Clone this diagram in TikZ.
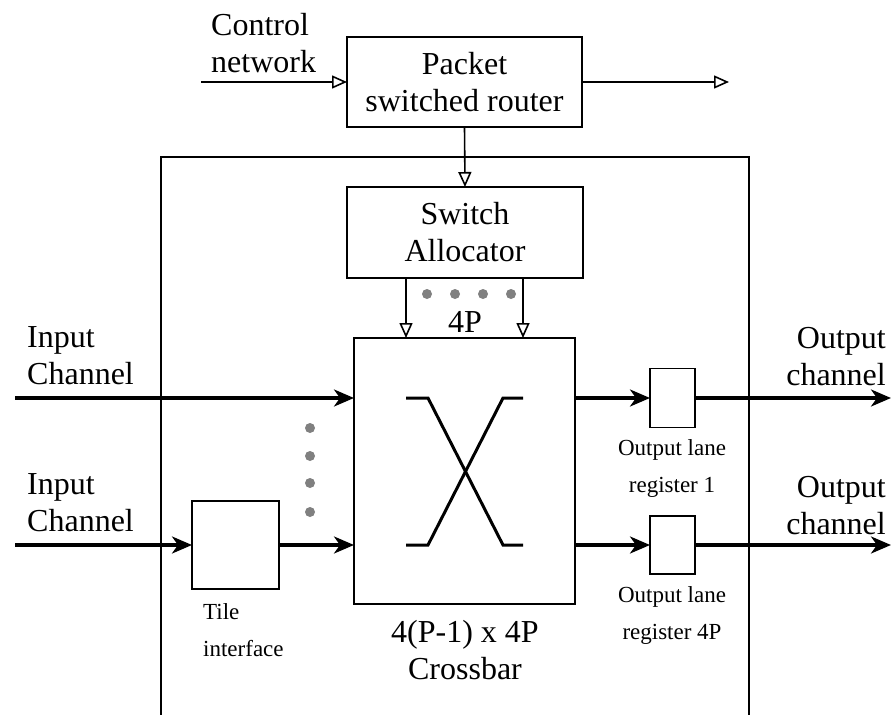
\documentclass[tikz,border=0pt]{standalone}
\usepackage{fontspec}
\setmainfont{Liberation Serif}
\usetikzlibrary{arrows.meta,calc}
\newcommand\mainsz{\fontsize{32}{37}\selectfont}
\newcommand\smallsz{\fontsize{23}{37}\selectfont}
\begin{document}
\begin{tikzpicture}[x=1pt,y=-1pt,
  box/.style={draw,line width=1.6pt,inner sep=0pt,outer sep=0pt},
  lbl/.style={inner sep=0pt,font=\mainsz},
  slbl/.style={inner sep=0pt,font=\smallsz},
  openarrow/.style={line width=1.6pt,-{Triangle[open,length=15pt,width=13pt,line width=1.6pt]}},
  thickarrow/.style={line width=3.2pt,-{Stealth[length=20pt,width=17pt,inset=6pt]}},
  thickline/.style={line width=3.2pt},
  xline/.style={line width=3pt},
  gdot/.style={fill=black!50,draw=none}]
\useasboundingbox (0,0) rectangle (892,715);
% outer frame
\coordinate (fa) at (161,715);
\coordinate (fb) at (161,157);
\coordinate (fc) at (749,157);
\coordinate (fd) at (749,715);
\draw[line width=1.6pt] (fa) -- (fb) -- (fc) -- (fd);
% boxes
\node[box,minimum width=235pt,minimum height=90pt,align=center,font=\mainsz] (psr) at (464.5,82) {Packet\\switched router};
\node[box,minimum width=236pt,minimum height=91pt,align=center,font=\mainsz] (sa) at (465,232.5) {Switch\\Allocator};
\node[box,minimum width=221pt,minimum height=266pt] (xb) at (464.5,471) {};
\node[box,minimum width=87pt,minimum height=88pt] (tile) at (235.5,545) {};
\node[box,minimum width=45pt,minimum height=59pt] (r1) at (672.5,398) {};
\node[box,minimum width=45pt,minimum height=58pt] (r2) at (672.5,545) {};
% control network
\coordinate (cin) at (201,82);
\coordinate (cout) at (729,82);
\draw[openarrow] (cin) -- (psr.west);
\draw[openarrow] (psr.east) -- (cout);
\node[lbl,align=left,anchor=west] (cn) at (211,43.5) {Control\\network};
\draw[openarrow] (psr.south) -- (sa.north);
% allocator to crossbar
\coordinate (a1) at (406,0);
\coordinate (a2) at (523,0);
\draw[openarrow] (sa.south -| a1) -- (xb.north -| a1);
\draw[openarrow] (sa.south -| a2) -- (xb.north -| a2);
\foreach \x in {427,455,483,511} \fill[gdot] (\x,294) circle (5pt);
\node[lbl] (fourp) at (465,322) {4P};
% X symbol
\coordinate (x1) at (406,398);
\coordinate (x2) at (428,398);
\coordinate (x3) at (503,545);
\coordinate (x4) at (523,545);
\coordinate (x5) at (406,545);
\coordinate (x6) at (428,545);
\coordinate (x7) at (503,398);
\coordinate (x8) at (523,398);
\draw[xline] (x1) -- (x2) -- (x3) -- (x4);
\draw[xline] (x5) -- (x6) -- (x7) -- (x8);
% inputs
\coordinate (in1) at (15,398);
\coordinate (in2) at (15,545);
\draw[thickarrow] (in1) -- (in1 -| xb.west);
\draw[thickarrow] (in2) -- (tile.west);
\draw[thickarrow] (tile.east) -- (tile.east -| xb.west);
\node[lbl,align=left,anchor=west] (ic1) at (27,355.5) {Input\\Channel};
\node[lbl,align=left,anchor=west] (ic2) at (27,502.5) {Input\\Channel};
\foreach \y in {428,456,483,512} \fill[gdot] (310,\y) circle (5pt);
\node[slbl,align=left,anchor=west] (tl) at (203,630) {Tile\\interface};
% outputs
\coordinate (o1) at (891,398);
\coordinate (o2) at (891,545);
\draw[thickarrow] (xb.east |- r1.west) -- (r1.west);
\draw[thickarrow] (xb.east |- r2.west) -- (r2.west);
\draw[thickarrow] (r1.east) -- (o1);
\draw[thickarrow] (r2.east) -- (o2);
\node[lbl,align=right,anchor=east] (oc1) at (886,356.5) {Output\\channel};
\node[lbl,align=right,anchor=east] (oc2) at (886,505.5) {Output\\channel};
\node[slbl,align=center] (rl1) at (672,468.5) {Output lane\\register 1};
\node[slbl,align=center] (rl2) at (672,615.5) {Output lane\\register 4P};
\node[lbl,align=center] (xbl) at (465,650) {4(P-1) x 4P\\Crossbar};
\end{tikzpicture}
\end{document}
